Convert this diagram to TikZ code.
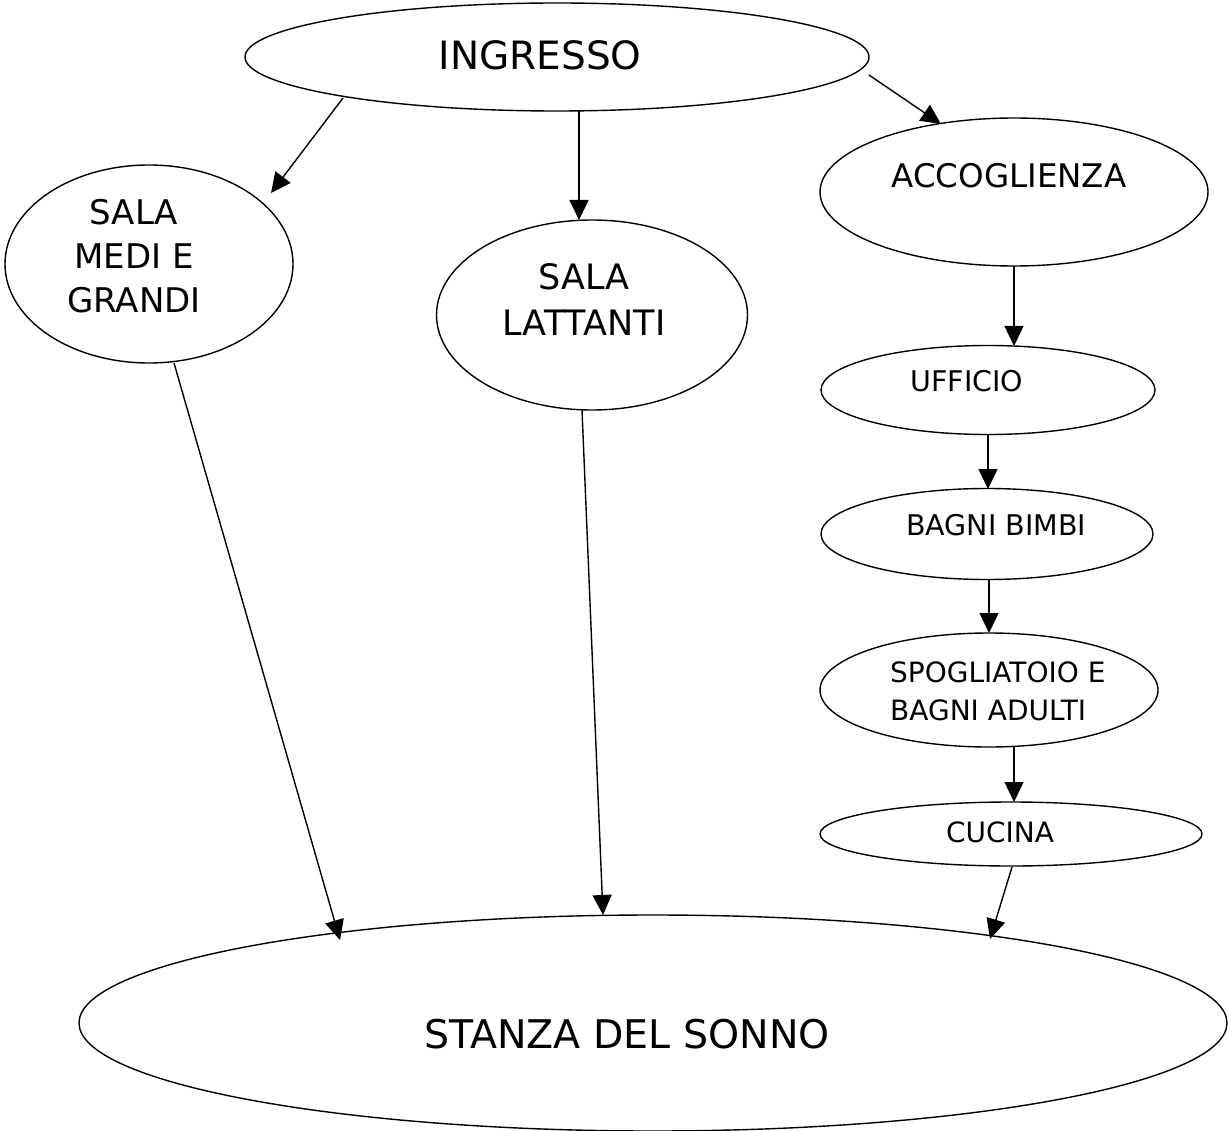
\documentclass[tikz,border=0pt]{standalone}
\usepackage{fontspec}
\setmainfont{DejaVu Sans}
\usetikzlibrary{shapes.geometric,arrows.meta}
\tikzset{
  room/.style={draw, ellipse, line width=1.4pt, inner sep=0pt},
  lbl/.style={inner sep=0pt, align=center},
  conn/.style={line width=1.4pt, -{Triangle[length=20pt,width=19pt]}}
}
\begin{document}
\begin{tikzpicture}[x=1pt,y=-1pt]
\useasboundingbox (0,0) rectangle (1228,1131);
% ellipses
\node[room, minimum width=624pt, minimum height=108pt] (ingresso) at (557,57) {};
\node[room, minimum width=288pt, minimum height=198pt] (medi) at (149,264) {};
\node[room, minimum width=311pt, minimum height=190pt] (lattanti) at (592,315) {};
\node[room, minimum width=388pt, minimum height=148pt] (accoglienza) at (1014,192) {};
\node[room, minimum width=334pt, minimum height=89pt] (ufficio) at (988,390) {};
\node[room, minimum width=332pt, minimum height=91pt] (bagni) at (987,534) {};
\node[room, minimum width=338pt, minimum height=114pt] (spogliatoio) at (989,690) {};
\node[room, minimum width=382pt, minimum height=64pt] (cucina) at (1011,834) {};
\node[room, minimum width=1148pt, minimum height=216pt] (sonno) at (653,1023) {};
% labels
\node[lbl, font=\fontsize{39}{44}\selectfont] (tingresso) at (540,55) {INGRESSO};
\node[lbl, font=\fontsize{34}{44}\selectfont] (tmedi) at (134,256) {SALA\\MEDI E\\GRANDI};
\node[lbl, font=\fontsize{35}{46}\selectfont] (tlattanti) at (584,300) {SALA\\LATTANTI};
\node[lbl, font=\fontsize{32.5}{36}\selectfont] (taccoglienza) at (1009,176) {ACCOGLIENZA};
\node[lbl, font=\fontsize{28.5}{30}\selectfont] (tufficio) at (967,381) {UFFICIO};
\node[lbl, font=\fontsize{28.5}{30}\selectfont] (tbagni) at (996,525) {BAGNI BIMBI};
\node[lbl, align=left, font=\fontsize{28}{38}\selectfont, anchor=west] (tspogliatoio) at (890,691) {SPOGLIATOIO E\\BAGNI ADULTI};
\node[lbl, font=\fontsize{28}{30}\selectfont] (tcucina) at (1000,832) {CUCINA};
\node[lbl, font=\fontsize{39.5}{44}\selectfont] (tsonno) at (627,1034) {STANZA DEL SONNO};
% connector end points
\coordinate (a1) at (343,98);  \coordinate (a2) at (271,193);
\coordinate (b1) at (579,111); \coordinate (b2) at (579,220);
\coordinate (c1) at (869,75);  \coordinate (c2) at (941,124);
\coordinate (d1) at (1014,266); \coordinate (d2) at (1014,346);
\coordinate (e1) at (988,435); \coordinate (e2) at (988,489);
\coordinate (f1) at (989,580); \coordinate (f2) at (989,633);
\coordinate (g1) at (1014,747); \coordinate (g2) at (1014,802);
\coordinate (h1) at (1012,867); \coordinate (h2) at (990,939);
\coordinate (i1) at (174,363); \coordinate (i2) at (340,940);
\coordinate (j1) at (582,410); \coordinate (j2) at (603,915);
\draw[conn] (a1) -- (a2);
\draw[conn] (b1) -- (b2);
\draw[conn] (c1) -- (c2);
\draw[conn] (d1) -- (d2);
\draw[conn] (e1) -- (e2);
\draw[conn] (f1) -- (f2);
\draw[conn] (g1) -- (g2);
\draw[conn] (h1) -- (h2);
\draw[conn] (i1) -- (i2);
\draw[conn] (j1) -- (j2);
\end{tikzpicture}
\end{document}
